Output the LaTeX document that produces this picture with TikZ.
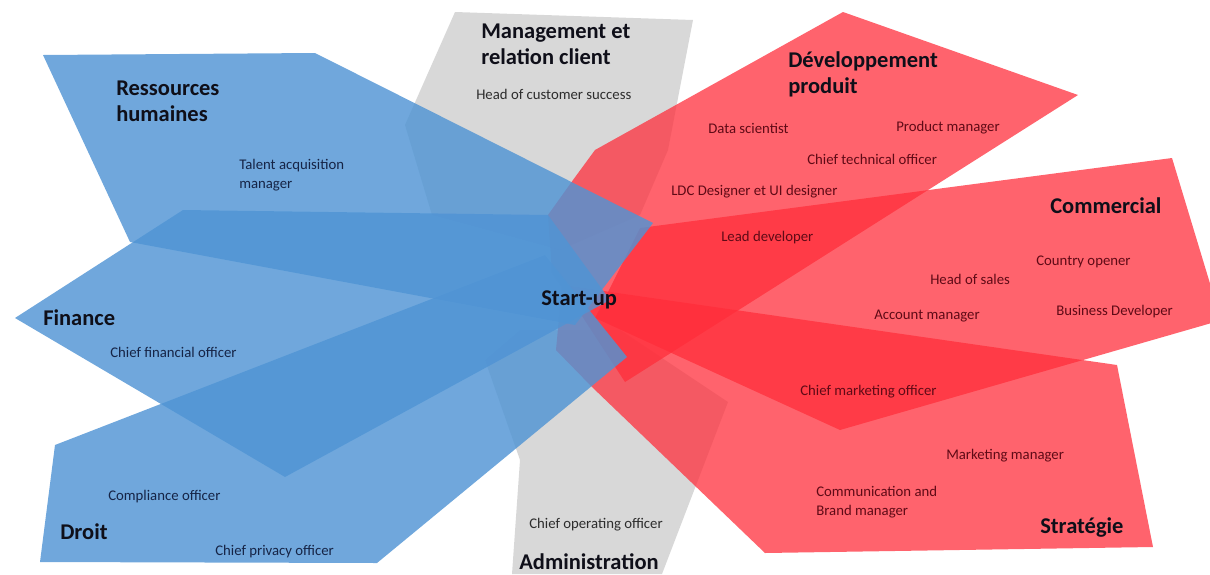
\documentclass[tikz,border=0pt]{standalone}
\usepackage{fontspec}
\setmainfont{Carlito}
\definecolor{bluebase}{RGB}{80,148,212}
\definecolor{redbase}{RGB}{255,45,58}
\definecolor{graybase}{RGB}{214,214,214}
\definecolor{navytxt}{RGB}{22,36,70}
\definecolor{redtxt}{RGB}{95,10,22}
\definecolor{graytxt}{RGB}{45,45,45}
\definecolor{titletxt}{RGB}{15,15,25}
\tikzset{
  bluezone/.style={fill=bluebase, fill opacity=0.82, draw=none},
  redzone/.style={fill=redbase, fill opacity=0.74, draw=none},
  grayzone/.style={fill=graybase, fill opacity=0.95, draw=none},
  ttl/.style={font=\fontsize{16}{18.5}\selectfont\bfseries, text=titletxt, anchor=west, inner sep=0pt, align=left},
  role/.style={font=\fontsize{10.5}{13.5}\selectfont, anchor=west, inner sep=0pt, align=left},
  rolb/.style={role, text=navytxt},
  rolr/.style={role, text=redtxt},
  rolg/.style={role, text=graytxt}
}
\begin{document}
\begin{tikzpicture}[x=0.025cm, y=-0.025cm]
\useasboundingbox (0,0) rectangle (1210,574);
% gray zones
\fill[grayzone] (455,12) -- (693,20) -- (668,150) -- (640,215) -- (560,250) -- (432,215) -- (405,125) -- cycle;
\fill[grayzone] (512,574) -- (662,574) -- (728,402) -- (620,330) -- (520,330) -- (485,360) -- (520,460) -- cycle;
% red zones
\fill[redzone] (843,12) -- (1078,95) -- (625,382) -- (580,313) -- (552,273) -- (548,215) -- (573,180) -- (595,150) -- cycle;
\fill[redzone] (640,228) -- (1172,158) -- (1215,300) -- (1215,322) -- (840,430) -- (595,318) -- cycle;
\fill[redzone] (562,285) -- (1117,365) -- (1153,547) -- (765,553) -- (592,387) -- (556,350) -- cycle;
% blue zones
\fill[bluezone] (43,55) -- (315,53) -- (653,223) -- (575,325) -- (130,242) -- cycle;
\fill[bluezone] (15,318) -- (183,210) -- (548,215) -- (610,300) -- (285,477) -- cycle;
\fill[bluezone] (55,445) -- (545,255) -- (627,357) -- (593,385) -- (377,563) -- (40,562) -- cycle;
% titles
\node[ttl] (rh) at (116,101) {Ressources\\humaines};
\node[ttl] (mgmt) at (481,44) {Management et\\relation client};
\node[ttl] (dev) at (788,74) {Développement\\produit};
\node[ttl] (com) at (1050,206) {Commercial};
\node[ttl] (fin) at (43,318) {Finance};
\node[ttl] (su) at (541,300) {Start-up};
\node[ttl] (droit) at (60,532) {Droit};
\node[ttl] (strat) at (1040,528) {Stratégie};
\node[ttl] (admin) at (519,562) {Administration};
% roles
\node[rolb] (tam) at (239,175) {Talent acquisition\\manager};
\node[rolg] (hcs) at (476,94) {Head of customer success};
\node[rolr] (ds) at (708,128) {Data scientist};
\node[rolr] (pm) at (896,128) {Product manager};
\node[rolr] (cto) at (807,159) {Chief technical officer};
\node[rolr] (ldc) at (671,192) {LDC Designer et UI designer};
\node[rolr] (lead) at (721,238) {Lead developer};
\node[rolr] (co) at (1036,262) {Country opener};
\node[rolr] (hos) at (930,279) {Head of sales};
\node[rolr] (bd) at (1056,312) {Business Developer};
\node[rolr] (am) at (874,316) {Account manager};
\node[rolb] (cfo) at (110,352) {Chief financial officer};
\node[rolr] (cmo) at (800,392) {Chief marketing officer};
\node[rolr] (mm) at (946,456) {Marketing manager};
\node[rolb] (comp) at (108,497) {Compliance officer};
\node[rolr] (cbm) at (816,502) {Communication and\\Brand manager};
\node[rolb] (cpo) at (215,552) {Chief privacy officer};
\node[rolg] (coo) at (529,525) {Chief operating officer};
\end{tikzpicture}
\end{document}
